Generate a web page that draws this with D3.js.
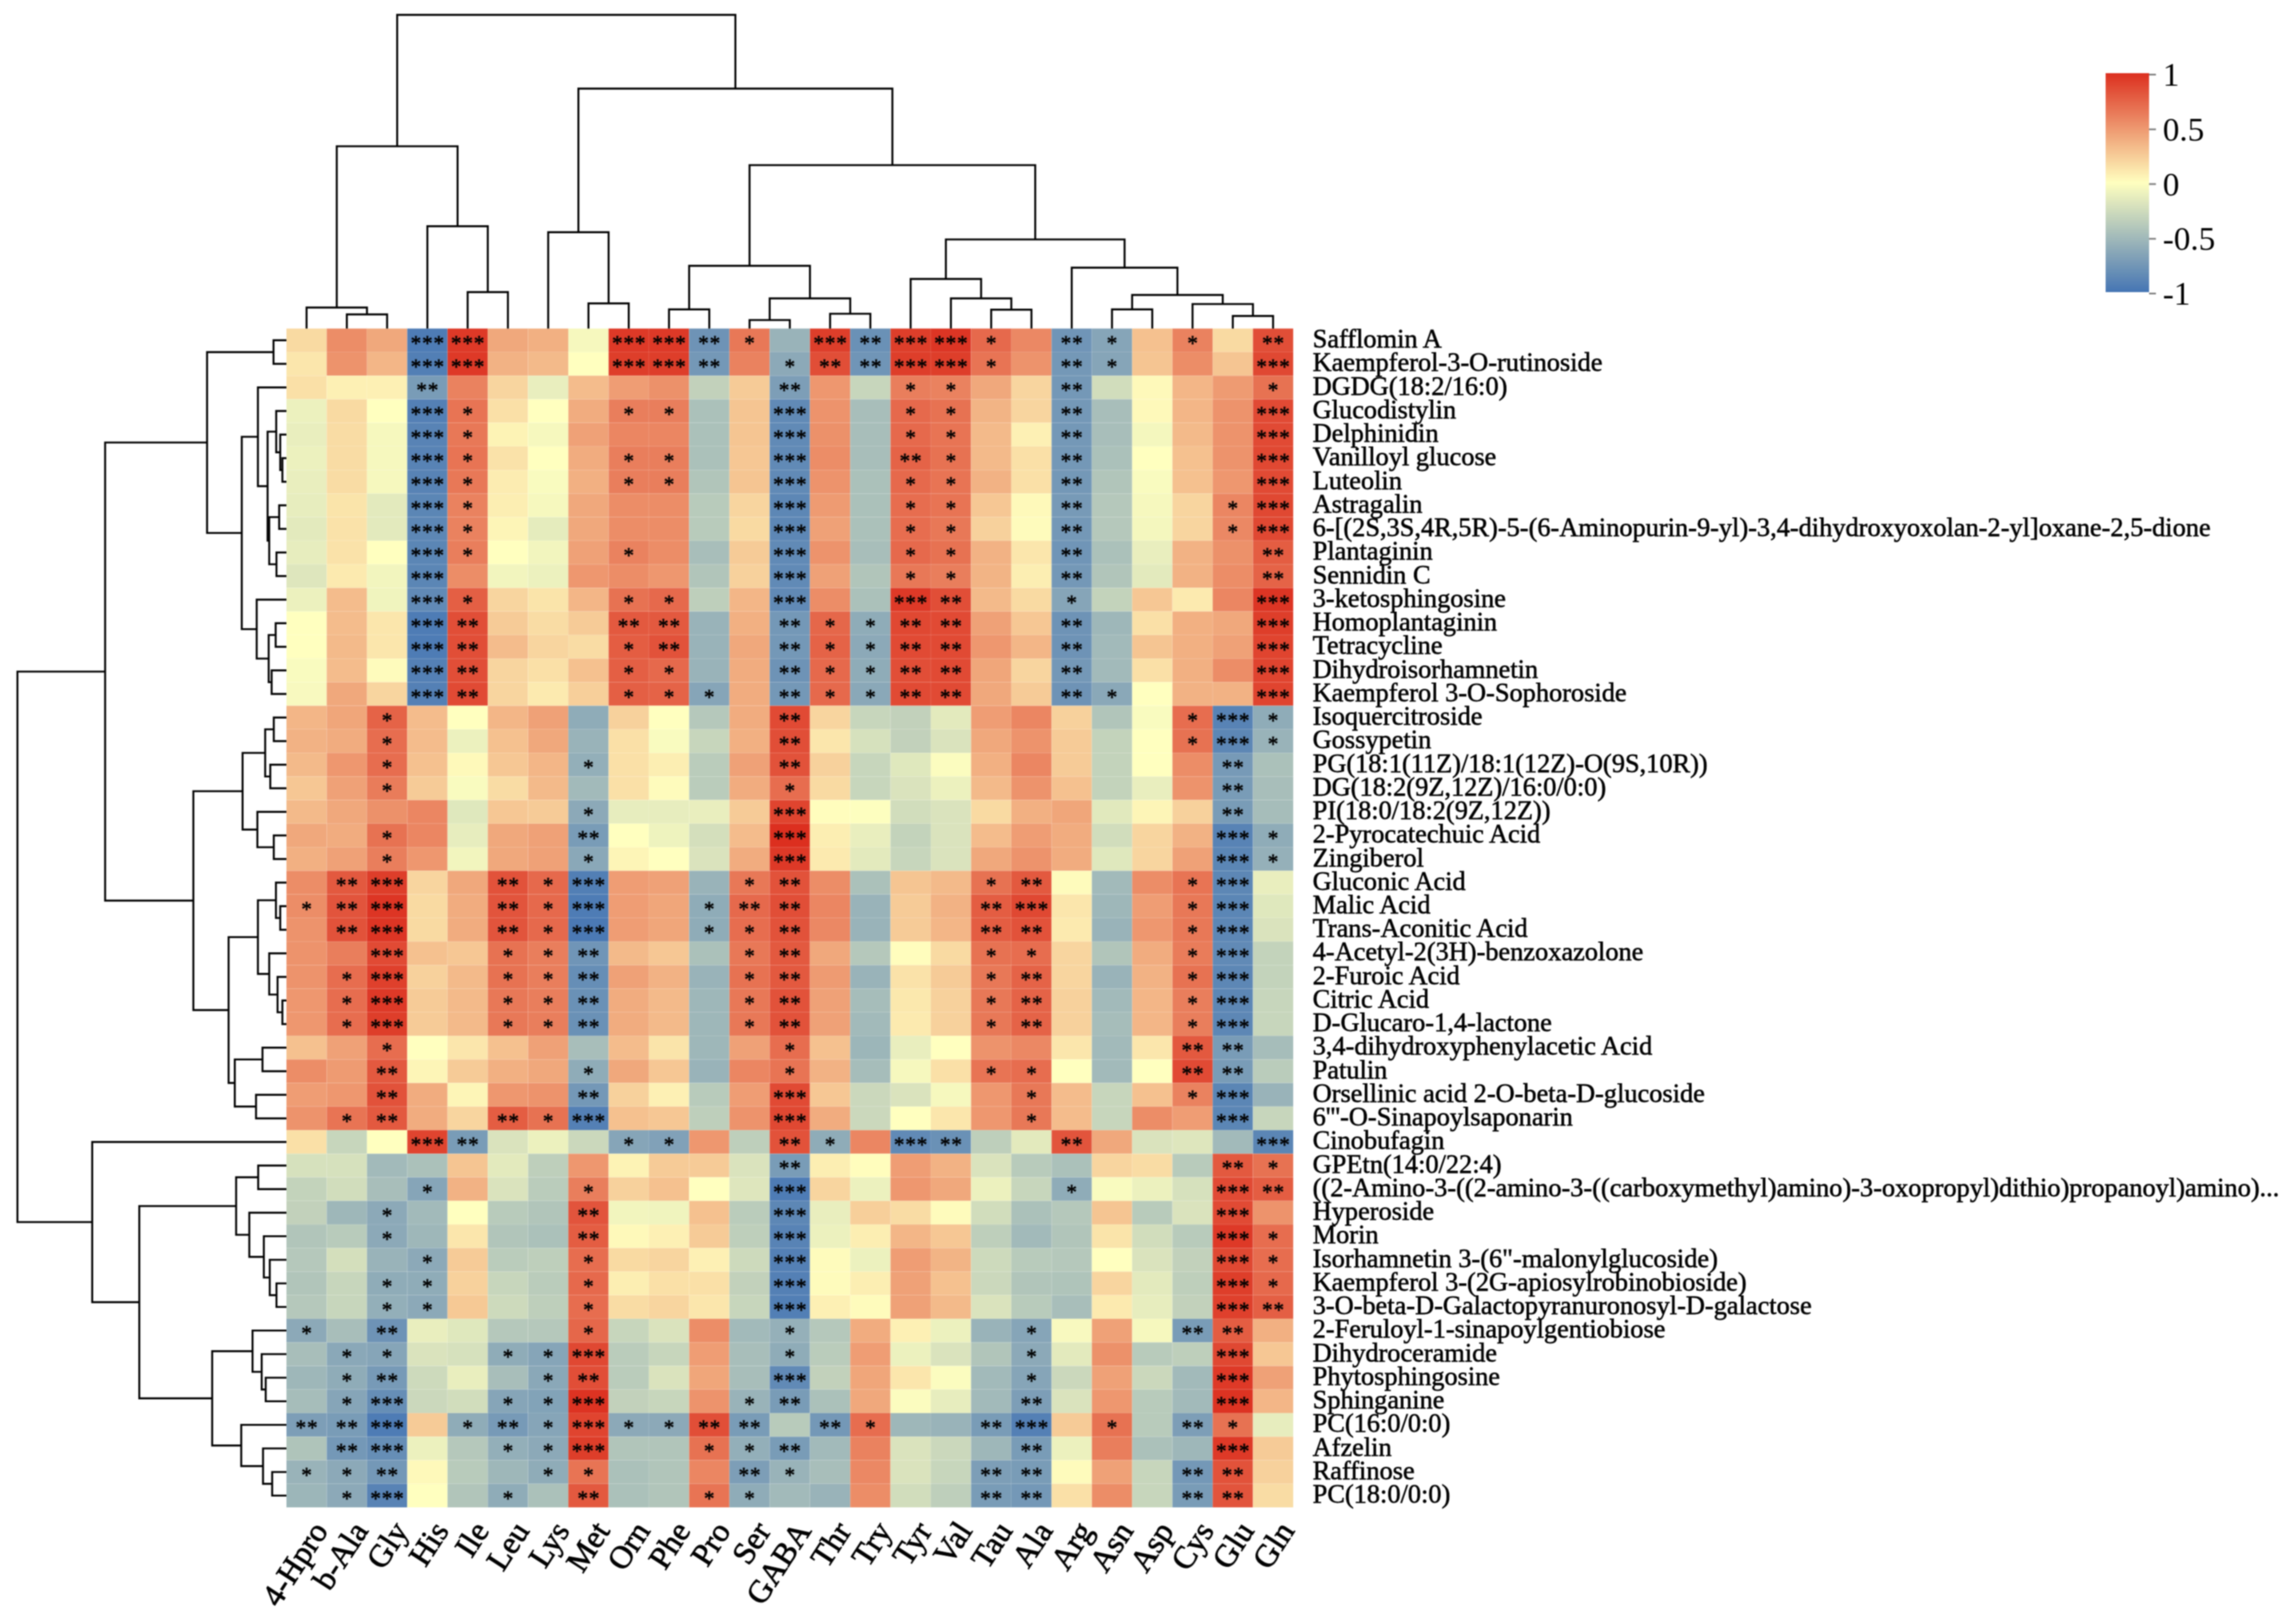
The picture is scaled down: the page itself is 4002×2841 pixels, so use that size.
<!DOCTYPE html>
<html>
<head>
<meta charset="utf-8">
<style>
html,body{margin:0;padding:0;background:#fff;}
svg{display:block;}
</style>
<script src="https://d3js.org/d3.v7.min.js"></script>
</head>
<body>
<svg id="chart" width="4002" height="2841" xmlns="http://www.w3.org/2000/svg"></svg>
<script>
const colLabels = ["4-Hpro","b-Ala","Gly","His","Ile","Leu","Lys","Met","Orn","Phe","Pro","Ser","GABA","Thr","Try","Tyr","Val","Tau","Ala","Arg","Asn","Asp","Cys","Glu","Gln"];
const rowLabels = ["Safflomin A","Kaempferol-3-O-rutinoside","DGDG(18:2/16:0)","Glucodistylin","Delphinidin","Vanilloyl glucose","Luteolin","Astragalin",
"6-[(2S,3S,4R,5R)-5-(6-Aminopurin-9-yl)-3,4-dihydroxyoxolan-2-yl]oxane-2,5-dione","Plantaginin","Sennidin C","3-ketosphingosine","Homoplantaginin","Tetracycline","Dihydroisorhamnetin","Kaempferol 3-O-Sophoroside",
"Isoquercitroside","Gossypetin","PG(18:1(11Z)/18:1(12Z)-O(9S,10R))","DG(18:2(9Z,12Z)/16:0/0:0)","PI(18:0/18:2(9Z,12Z))","2-Pyrocatechuic Acid","Zingiberol",
"Gluconic Acid","Malic Acid","Trans-Aconitic Acid","4-Acetyl-2(3H)-benzoxazolone","2-Furoic Acid","Citric Acid","D-Glucaro-1,4-lactone","3,4-dihydroxyphenylacetic Acid","Patulin","Orsellinic acid 2-O-beta-D-glucoside","6'''-O-Sinapoylsaponarin",
"Cinobufagin","GPEtn(14:0/22:4)","((2-Amino-3-((2-amino-3-((carboxymethyl)amino)-3-oxopropyl)dithio)propanoyl)amino)...","Hyperoside","Morin","Isorhamnetin 3-(6\"-malonylglucoside)","Kaempferol 3-(2G-apiosylrobinobioside)","3-O-beta-D-Galactopyranuronosyl-D-galactose",
"2-Feruloyl-1-sinapoylgentiobiose","Dihydroceramide","Phytosphingosine","Sphinganine","PC(16:0/0:0)","Afzelin","Raffinose","PC(18:0/0:0)"];
const corr = [
[.18,.55,.42,-.95,.95, .42,.38,-.05,.95,.95, -.78,.65,-.55,.93,-.8, .93,.97,.72,.57,-.77, -.65,.3,.6,.18,.85],
[.12,.52,.35,-.93,.95, .37,.33,0,.93,.93, -.75,.6,-.62,.85,-.77, .93,.93,.67,.52,-.75, -.65,.28,.55,.28,.88],
[.15,.07,.07,-.72,.6, .2,-.12,.32,.47,.53, -.33,.25,-.7,.5,-.3, .62,.6,.42,.2,-.75, -.25,.03,.35,.48,.68],
[-.1,.18,0,-.92,.67, .15,0,.4,.62,.62, -.45,.28,-.85,.52,-.47, .72,.68,.36,.2,-.75, -.47,.03,.35,.52,.87],
[-.12,.17,-.05,-.9,.65, .06,-.05,.45,.58,.58, -.45,.28,-.85,.53,-.47, .72,.67,.33,.07,-.75, -.47,-.06,.33,.52,.87],
[-.1,.17,-.05,-.9,.67, .14,0,.4,.62,.62, -.45,.27,-.85,.55,-.47, .75,.68,.33,.15,-.75, -.45,0,.3,.52,.88],
[-.12,.17,-.05,-.9,.65, .09,-.03,.38,.62,.62, -.42,.28,-.85,.52,-.45, .72,.67,.37,.15,-.75, -.42,-.03,.3,.5,.87],
[-.13,.13,-.15,-.88,.6, .08,-.05,.42,.55,.55, -.38,.2,-.87,.48,-.45, .7,.67,.27,.03,-.73, -.4,-.05,.2,.58,.88],
[-.15,.14,-.15,-.87,.6, .05,-.14,.42,.55,.55, -.38,.18,-.87,.45,-.45, .7,.65,.22,.02,-.75, -.4,-.06,.2,.57,.88],
[-.13,.14,0,-.88,.62, 0,-.07,.45,.6,.55, -.47,.25,-.85,.52,-.47, .72,.68,.37,.12,-.77, -.45,-.12,.37,.53,.78],
[-.18,.1,-.07,-.88,.55, -.07,-.1,.5,.55,.5, -.42,.22,-.85,.45,-.42, .65,.62,.36,.08,-.75, -.42,-.15,.37,.55,.75],
[-.1,.32,-.08,-.85,.77, .2,.13,.35,.68,.72, -.35,.35,-.85,.55,-.45, .95,.85,.33,.18,-.65, -.32,.27,.1,.58,.97],
[0,.32,.12,-.95,.85, .25,.17,.25,.8,.8, -.55,.38,-.75,.73,-.6, .88,.87,.45,.27,-.78, -.52,.15,.38,.42,.93],
[0,.33,.12,-.95,.85, .32,.2,.17,.78,.83, -.55,.42,-.75,.75,-.62, .87,.87,.5,.35,-.78, -.5,.28,.38,.45,.9],
[-.03,.32,.02,-.92,.85, .2,.15,.3,.77,.72, -.55,.4,-.78,.72,-.6, .85,.87,.43,.2,-.75, -.5,.15,.38,.55,.9],
[-.04,.42,.2,-.92,.87, .2,.1,.23,.77,.75, -.65,.4,-.75,.72,-.63, .87,.87,.42,.25,-.78, -.63,0,.37,.37,.9],
[.35,.43,.75,.32,0, .35,.45,-.6,.22,0, -.4,.4,.87,.2,-.3, -.33,-.15,.47,.58,.22, -.42,-.03,.7,-.9,-.6],
[.37,.4,.7,.32,-.1, .3,.42,-.55,.15,-.03, -.3,.38,.85,.12,-.22, -.33,-.2,.42,.52,.25, -.32,0,.68,-.87,-.55],
[.33,.5,.7,.3,.03, .27,.35,-.58,.15,.08, -.37,.45,.83,.22,-.3, -.17,-.02,.38,.58,.25, -.32,0,.55,-.73,-.45],
[.27,.45,.63,.25,-.03, .17,.33,-.5,.15,.02, -.37,.4,.7,.18,-.3, -.2,-.1,.33,.52,.3, -.32,-.12,.52,-.72,-.47],
[.33,.42,.53,.58,-.17, .27,.25,-.62,-.13,-.13, -.12,.25,.9,.01,-.01, -.25,-.2,.18,.38,.43, -.16,.05,.22,-.72,-.48],
[.42,.4,.68,.58,-.13, .42,.45,-.72,0,-.09, -.23,.32,1,.08,-.12, -.32,-.2,.32,.47,.4, -.25,.2,.37,-.9,-.6],
[.38,.45,.62,.5,-.07, .42,.45,-.63,.05,0, -.2,.4,.95,.1,-.15, -.3,-.2,.42,.52,.4, -.17,.2,.45,-.88,-.57],
[.55,.8,.93,.2,.42, .83,.72,-.93,.47,.45, -.55,.65,.83,.55,-.45, .28,.33,.68,.8,.02, -.5,.55,.67,-.87,-.12],
[.55,.82,.97,.18,.4, .82,.72,-.95,.47,.43, -.6,.72,.85,.58,-.55, .25,.37,.78,.88,.12, -.52,.47,.65,-.88,-.17],
[.52,.83,.97,.18,.4, .82,.72,-.97,.47,.43, -.6,.7,.83,.57,-.55, .25,.35,.78,.83,.1, -.55,.5,.65,-.87,-.2],
[.52,.62,.87,.3,.27, .68,.62,-.77,.33,.27, -.45,.65,.8,.42,-.4, .01,.18,.68,.7,.2, -.42,.4,.63,-.85,-.32],
[.52,.7,.92,.22,.33, .68,.62,-.82,.45,.37, -.55,.68,.8,.48,-.55, .14,.25,.65,.75,.2, -.55,.37,.68,-.87,-.32],
[.5,.7,.95,.25,.33, .65,.62,-.8,.4,.33, -.52,.65,.83,.45,-.48, .11,.22,.65,.75,.22, -.5,.35,.62,-.87,-.3],
[.5,.7,.93,.25,.33, .65,.62,-.8,.4,.33, -.52,.65,.83,.45,-.5, .1,.22,.65,.75,.22, -.48,.35,.62,-.87,-.3],
[.3,.45,.7,0,.12, .3,.45,-.47,.32,.13, -.52,.45,.7,.3,-.53, -.12,0,.52,.57,.12, -.5,.12,.8,-.72,-.48],
[.55,.48,.8,.05,.25, .38,.42,-.6,.42,.27, -.55,.58,.67,.37,-.48, -.05,.15,.67,.7,0, -.5,0,.87,-.72,-.37],
[.47,.5,.83,.4,.05, .5,.52,-.75,.22,.07, -.38,.47,.87,.27,-.28, -.2,-.05,.5,.65,.32, -.3,.3,.6,-.88,-.55],
[.52,.67,.8,.4,.2, .78,.68,-.92,.3,.27, -.35,.52,.88,.4,-.28, 0,.12,.5,.65,.32, -.3,.55,.47,-.88,-.3],
[.15,-.3,0,.9,-.72, -.2,-.1,-.28,-.65,-.68, .5,-.35,.83,-.6,.58, -.85,-.8,-.35,-.15,.82, .42,-.2,-.18,-.5,-.88],
[-.22,-.22,-.5,-.45,.28, -.15,-.35,.5,.06,.25, .25,-.2,-.72,.08,.01, .47,.37,-.2,-.38,-.45, .2,.17,-.38,.8,.68],
[-.32,-.25,-.47,-.65,.37, -.2,-.37,.62,.22,.3, 0,-.18,-.95,.2,-.1, .5,.42,-.1,-.3,-.6, -.03,-.1,-.22,.87,.78],
[-.33,-.52,-.62,-.5,0, -.38,-.42,.82,-.07,-.08, .3,-.37,-.87,-.12,.23, .17,.02,-.25,-.45,-.4, .28,-.38,-.2,.87,.52],
[-.42,-.38,-.62,-.52,.12, -.42,-.45,.78,.03,.07, .25,-.35,-.9,-.1,.08, .35,.27,-.35,-.5,-.42, .13,-.25,-.38,.95,.7],
[-.4,-.23,-.55,-.62,.25, -.37,-.35,.7,.18,.2, .07,-.27,-.92,.02,-.1, .47,.36,-.27,-.38,-.4, 0,-.2,-.33,.88,.7],
[-.42,-.3,-.6,-.6,.22, -.3,-.37,.72,.08,.15, .15,-.33,-.92,.02,.08, .45,.3,-.28,-.42,-.43, .2,-.15,-.35,.93,.72],
[-.4,-.3,-.58,-.62,.26, -.27,-.35,.7,.17,.2, .12,-.3,-.93,.07,.02, .45,.33,-.2,-.38,-.47, .1,-.13,-.33,.92,.77],
[-.62,-.47,-.78,-.12,-.17, -.4,-.4,.73,-.3,-.2, .55,-.5,-.57,-.4,.4, .07,-.1,-.55,-.65,-.04, .45,-.05,-.72,.78,.38],
[-.47,-.63,-.65,-.2,-.22, -.6,-.65,.88,-.37,-.3, .47,-.47,-.6,-.37,.47, -.1,-.2,-.42,-.62,-.15, .53,-.38,-.35,.88,.27],
[-.52,-.6,-.73,-.27,-.12, -.47,-.63,.85,-.37,-.2, .43,-.47,-.85,-.33,.43, .12,-.02,-.5,-.65,-.28, .45,-.28,-.5,.95,.45],
[-.48,-.65,-.82,-.28,-.25, -.65,-.67,.98,-.33,-.3, .52,-.55,-.72,-.45,.42, -.02,-.13,-.5,-.7,-.2, .5,-.38,-.5,.98,.35],
[-.7,-.72,-.95,.25,-.6, -.73,-.65,.9,-.62,-.62, .85,-.72,-.38,-.75,.7, -.52,-.55,-.72,-.92,.25, .68,-.38,-.7,.68,-.13],
[-.43,-.75,-.82,-.1,-.4, -.58,-.62,.93,-.42,-.42, .68,-.58,-.72,-.5,.6, -.2,-.28,-.52,-.72,-.1, .62,-.45,-.52,.95,.25],
[-.55,-.62,-.75,.03,-.38, -.52,-.6,.67,-.45,-.42, .58,-.7,-.55,-.47,.57, -.2,-.3,-.7,-.72,.02, .45,-.3,-.75,.83,.22],
[-.53,-.62,-.9,0,-.42, -.6,-.45,.8,-.45,-.42, .67,-.6,-.5,-.55,.55, -.25,-.35,-.72,-.75,.15, .55,-.3,-.72,.82,.17]
];
const starCounts = [
"00033 00033 21032 33102 10102","00033 00033 20122 33102 10003","00020 00000 00200 11002 00001","00031 00011 00300 11002 00003","00031 00000 00300 11002 00003",
"00031 00011 00300 21002 00003","00031 00011 00300 11002 00003","00031 00000 00300 11002 00013","00031 00000 00300 11002 00013","00031 00010 00300 11002 00002",
"00030 00000 00300 11002 00002","00031 00011 00300 32001 00003","00032 00022 00211 22002 00003","00032 00012 00211 22002 00003","00032 00011 00211 22002 00003",
"00032 00011 10211 22002 10003","00100 00000 00200 00000 00131","00100 00000 00200 00000 00131","00100 00100 00200 00000 00020","00100 00000 00100 00000 00020",
"00000 00100 00300 00000 00020","00100 00200 00300 00000 00031","00100 00100 00300 00000 00031","02300 21300 01200 00120 00130","12300 21300 12200 00230 00130",
"02300 21300 11200 00220 00130","00300 11200 01200 00110 00130","01300 11200 01200 00120 00130","01300 11200 01200 00120 00130","01300 11200 01200 00120 00130",
"00100 00000 00100 00000 00220","00200 00100 00100 00110 00220","00200 00200 00300 00010 00130","01200 21300 00300 00010 00030","00032 00011 00210 32002 00003",
"00000 00000 00200 00000 00021","00010 00100 00300 00001 00032","00100 00200 00300 00000 00030","00100 00200 00300 00000 00031","00010 00100 00300 00000 00031",
"00110 00100 00300 00000 00031","00110 00100 00300 00000 00032","10200 00100 00100 00010 00220","01100 11300 00100 00010 00030","01200 01200 00300 00010 00030",
"01300 11300 01200 00020 00030","22301 21311 22021 00230 10210","02300 11300 11200 00020 00030","11200 01100 02100 00220 00220","01300 10200 11000 00220 00220"
];
// Dendrograms: [merge height (% of root), left child, right child]; a bare number is a leaf index.
const colTree = [100,
 [58.1,[6.7,0,[4.5,1,2]],[32.6,3,[11.6,4,5]]],
 [76.5,[30.7,6,[8.0,7,8]],
  [52.1,
   [20.0,[6.1,9,10],[9.6,[2.7,11,12],[4.7,13,14]]],
   [28.4,[15.8,15,[9.6,16,[6.0,17,18]]],[19.4,19,[10.7,[6.1,20,21],[7.8,22,[4.0,23,24]]]]]
  ]
 ]
];
const rowTree = [100,
 [67.4,
  [29.5,[4.8,0,1],[16.6,[10.6,2,[7.0,[3.8,3,[2.3,4,[1.5,5,6]]],[6.4,[2.7,7,8],[3.7,9,10]]]],[11.05,11,[6.6,[4.0,12,13],[5.5,14,15]]]]],
  [34.6,[16.3,[7.9,[4.7,16,17],[6.0,18,19]],[10.8,20,[4.7,21,22]]],
   [21.5,[10.6,[3.9,23,[2.3,24,25]],[6.4,26,[3.3,27,[1.5,28,29]]]],[19.2,[8.9,30,31],[11.3,32,33]]]]
 ],
 [72.2,34,[54.7,[18.7,[10.5,35,36],[13.8,37,[8.4,38,[6.2,39,[3.7,40,41]]]]],
   [27.6,[12.6,42,[9.2,43,[7.7,44,45]]],[16.8,46,[8.7,47,[5.3,48,49]]]]]]
];
const legendTicks = [1,0.5,0,-0.5,-1];
const legendTickLabels = ["1","0.5","0","-0.5","-1"];

const SERIF = '"Liberation Serif","Times New Roman",serif';
const svg = d3.select("#chart");
svg.append("rect").attr("width",4002).attr("height",2841).attr("fill","#fff");
const root = svg.append("g").style("filter","blur(0.9px)");

const x = d3.scaleBand().domain(d3.range(colLabels.length)).range([501,2262]);
const y = d3.scaleBand().domain(d3.range(rowLabels.length)).range([574.7,2637]);
const color = d3.scaleLinear().domain([-1,0,1]).range(["#4575B4","#FFFFBF","#DC2F1F"]).clamp(true);

// heat cells
const cells = corr.flatMap((row,r)=>row.map((v,c)=>({r,c,v,s:+starCounts[r].replace(/ /g,"")[c]})));
root.append("g").selectAll("rect").data(cells).join("rect")
  .attr("x",d=>x(d.c)).attr("y",d=>y(d.r))
  .attr("width",x.bandwidth()).attr("height",y.bandwidth())
  .attr("fill",d=>color(d.v))
  .attr("stroke","#fff").attr("stroke-opacity",0.1).attr("stroke-width",1);

// significance stars
root.append("g").selectAll("text").data(cells.filter(d=>d.s>0)).join("text")
  .attr("x",d=>x(d.c)+x.bandwidth()/2+0.75)
  .attr("y",d=>y(d.r)+y.bandwidth()/2+17.5)
  .attr("text-anchor","middle")
  .attr("font-family",SERIF).attr("font-size",37).attr("letter-spacing",1.5).attr("fill","#000")
  .attr("stroke","#000").attr("stroke-width",0.8)
  .text(d=>"*".repeat(d.s));

// row labels
const axisRows = d3.axisRight(d3.scaleBand().domain(rowLabels).range(y.range())).tickSize(0).tickPadding(0);
const gr = root.append("g").attr("transform","translate(2296,-2)").call(axisRows);
gr.select(".domain").remove();
gr.selectAll("text").attr("font-family",SERIF).attr("font-size",46.1).attr("fill","#000")
  .attr("stroke","#000").attr("stroke-width",0.9).attr("dy","0.32em").attr("x",0);

// column labels
const axisCols = d3.axisBottom(d3.scaleBand().domain(colLabels).range(x.range())).tickSize(0).tickPadding(0);
const gc = root.append("g").attr("transform","translate(0,2678)").call(axisCols);
gc.select(".domain").remove();
gc.selectAll("text").attr("font-family",SERIF).attr("font-size",56).attr("fill","#000")
  .attr("stroke","#000").attr("stroke-width",1.2)
  .attr("text-anchor","end").attr("x",0).attr("y",0).attr("dy",0)
  .attr("transform","translate(39,0) rotate(-57)");

// dendrograms
const colH = d3.scaleLinear().domain([0,100]).range([574.7,26]);
const rowH = d3.scaleLinear().domain([0,100]).range([501,30.5]);
const line = d3.line();
function walk(node,pos,hs,emit){
  if(typeof node==="number") return {p:pos(node),h:hs(0)};
  const a=walk(node[1],pos,hs,emit), b=walk(node[2],pos,hs,emit), h=hs(node[0]);
  emit(a,b,h);
  return {p:(a.p+b.p)/2,h};
}
const dg = root.append("g").attr("fill","none").attr("stroke","#000").attr("stroke-width",3.4).attr("stroke-linejoin","miter");
walk(colTree,i=>x(i)+x.bandwidth()/2,colH,(a,b,h)=>{
  dg.append("path").attr("d",line([[a.p,a.h],[a.p,h],[b.p,h],[b.p,b.h]]));
});
walk(rowTree,i=>y(i)+y.bandwidth()/2,rowH,(a,b,h)=>{
  dg.append("path").attr("d",line([[a.h,a.p],[h,a.p],[h,b.p],[b.h,b.p]]));
});

// colour legend
const ly = d3.scaleLinear().domain([-1,1]).range([513,130]);
const lg = root.append("g");
const grad = svg.append("defs").append("linearGradient").attr("id","cb").attr("x1",0).attr("y1",1).attr("x2",0).attr("y2",0);
grad.selectAll("stop").data(d3.range(-1,1.0001,0.1)).join("stop")
  .attr("offset",d=>(d+1)/2).attr("stop-color",d=>color(d));
lg.append("rect").attr("x",3683).attr("width",76).attr("y",ly(1)-2).attr("height",ly(-1)-ly(1)).attr("fill","url(#cb)");
const axisL = d3.axisRight(ly).tickValues(legendTicks).tickSize(12).tickPadding(12)
  .tickFormat(d=>legendTickLabels[legendTicks.indexOf(d)]);
const gl = lg.append("g").attr("transform","translate(3759,0)").call(axisL);
gl.select(".domain").remove();
gl.selectAll("line").attr("stroke","#7f7f7f").attr("stroke-width",3);
gl.selectAll("text").attr("font-family",SERIF).attr("font-size",58).attr("fill","#000").attr("dy","0.34em");
</script>
</body>
</html>
